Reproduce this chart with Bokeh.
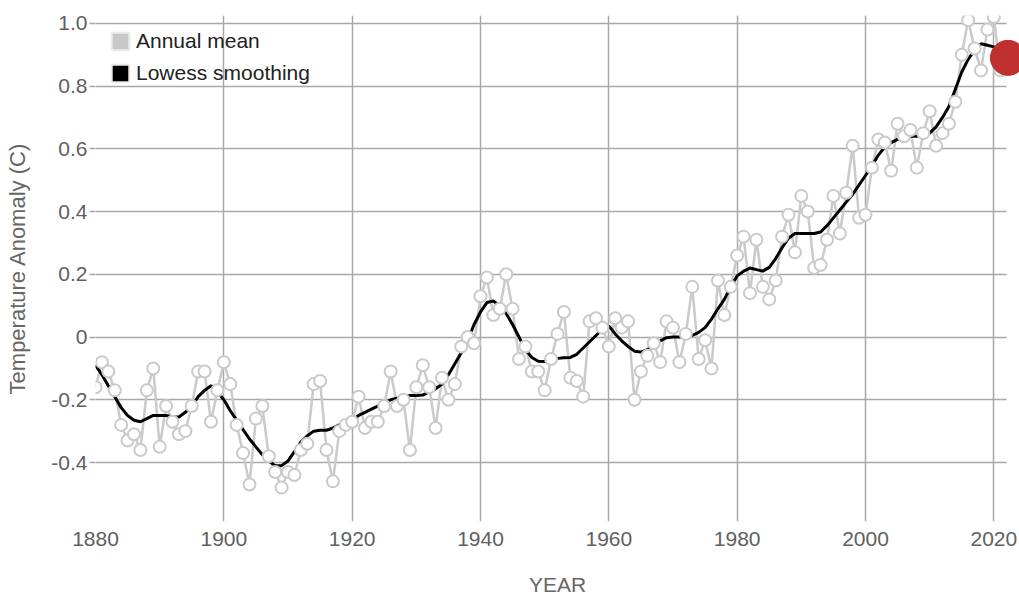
from bokeh.plotting import figure
from bokeh.models import Range1d, Legend, LegendItem
from bokeh.embed import file_html
from bokeh.resources import INLINE

years = list(range(1880, 2022))
annual_mean = [
    -0.16, -0.08, -0.11, -0.17, -0.28, -0.33, -0.31, -0.36, -0.17, -0.10,
    -0.35, -0.22, -0.27, -0.31, -0.30, -0.22, -0.11, -0.11, -0.27, -0.17,
    -0.08, -0.15, -0.28, -0.37, -0.47, -0.26, -0.22, -0.38, -0.43, -0.48,
    -0.43, -0.44, -0.36, -0.34, -0.15, -0.14, -0.36, -0.46, -0.30, -0.28,
    -0.27, -0.19, -0.29, -0.27, -0.27, -0.22, -0.11, -0.22, -0.20, -0.36,
    -0.16, -0.09, -0.16, -0.29, -0.13, -0.20, -0.15, -0.03, 0.00, -0.02,
    0.13, 0.19, 0.07, 0.09, 0.20, 0.09, -0.07, -0.03, -0.11, -0.11,
    -0.17, -0.07, 0.01, 0.08, -0.13, -0.14, -0.19, 0.05, 0.06, 0.03,
    -0.03, 0.06, 0.03, 0.05, -0.20, -0.11, -0.06, -0.02, -0.08, 0.05,
    0.03, -0.08, 0.01, 0.16, -0.07, -0.01, -0.10, 0.18, 0.07, 0.16,
    0.26, 0.32, 0.14, 0.31, 0.16, 0.12, 0.18, 0.32, 0.39, 0.27,
    0.45, 0.40, 0.22, 0.23, 0.31, 0.45, 0.33, 0.46, 0.61, 0.38,
    0.39, 0.54, 0.63, 0.62, 0.53, 0.68, 0.64, 0.66, 0.54, 0.65,
    0.72, 0.61, 0.65, 0.68, 0.75, 0.90, 1.01, 0.92, 0.85, 0.98,
    1.02, 0.85,
]
lowess = [
    -0.09, -0.12, -0.155, -0.19, -0.225, -0.25, -0.265, -0.27, -0.26, -0.25,
    -0.25, -0.25, -0.255, -0.255, -0.24, -0.22, -0.19, -0.17, -0.155, -0.175,
    -0.20, -0.235, -0.265, -0.295, -0.325, -0.35, -0.375, -0.395, -0.41, -0.41,
    -0.395, -0.365, -0.335, -0.315, -0.30, -0.297, -0.297, -0.29, -0.28, -0.272,
    -0.265, -0.25, -0.24, -0.23, -0.22, -0.21, -0.20, -0.195, -0.19, -0.186,
    -0.186, -0.185, -0.175, -0.165, -0.15, -0.12, -0.085, -0.05, -0.01, 0.04,
    0.08, 0.11, 0.115, 0.10, 0.075, 0.04, 0.00, -0.04, -0.065, -0.077,
    -0.078, -0.072, -0.068, -0.066, -0.065, -0.055, -0.035, -0.015, 0.005, 0.025,
    0.035, 0.01, -0.012, -0.03, -0.045, -0.048, -0.04, -0.025, -0.012, -0.002,
    0.00, 0.00, 0.00, 0.005, 0.015, 0.03, 0.057, 0.09, 0.12, 0.16,
    0.195, 0.21, 0.22, 0.215, 0.21, 0.222, 0.25, 0.285, 0.315, 0.33,
    0.33, 0.33, 0.33, 0.335, 0.355, 0.38, 0.405, 0.43, 0.455, 0.485,
    0.515, 0.545, 0.58, 0.605, 0.62, 0.63, 0.635, 0.64, 0.64, 0.643,
    0.65, 0.67, 0.70, 0.735, 0.79, 0.845, 0.885, 0.915, 0.935, 0.93,
    0.925, 0.92,
]
current_year = [2022.2]
current_value = [0.89]

x_ticks = [1880, 1900, 1920, 1940, 1960, 1980, 2000, 2020]
y_ticks = [-0.4, -0.2, 0.0, 0.2, 0.4, 0.6, 0.8, 1.0]
y_tick_labels = ["-0.4", "-0.2", "0", "0.2", "0.4", "0.6", "0.8", "1.0"]

FONT = "Liberation Sans"
GRID = "#a8a8a8"
GRAY = "#cacaca"

p = figure(width=1019, height=598, output_backend="svg", toolbar_location=None,
           x_range=Range1d(1880, 2024.0), y_range=Range1d(-0.588, 1.025),
           min_border_left=95, min_border_right=0, min_border_top=15,
           min_border_bottom=75)
p.outline_line_color = None
p.background_fill_color = "white"

p.xaxis.ticker = x_ticks
p.yaxis.ticker = y_ticks
p.yaxis.major_label_overrides = dict(zip(y_ticks, y_tick_labels))
for g in (p.xgrid, p.ygrid):
    g.grid_line_color = GRID
    g.grid_line_width = 1.5
try:
    p.ygrid.cross_bounds = (1880, 2022)
except Exception:
    pass

for ax in (p.xaxis, p.yaxis):
    ax.axis_line_color = None
    ax.minor_tick_line_color = None
    ax.major_tick_line_color = GRID
    ax.major_tick_line_width = 1.5
    ax.major_tick_in = 0
    ax.major_label_text_font = FONT
    ax.major_label_text_font_size = "21px"
    ax.major_label_text_color = "#606060"
    ax.axis_label_text_font = FONT
    ax.axis_label_text_font_style = "normal"
    ax.axis_label_text_color = "#666666"

p.xaxis.major_tick_out = 0
p.xaxis.major_label_standoff = 10
p.xaxis.axis_label = "YEAR"
p.xaxis.axis_label_text_font_size = "21px"
p.xaxis.axis_label_standoff = 24

p.yaxis.major_tick_out = 6
p.yaxis.major_label_standoff = 2
p.yaxis.axis_label = "Temperature Anomaly (C)"
p.yaxis.axis_label_text_font_size = "22px"
p.yaxis.axis_label_standoff = 18

# data
p.line(years, annual_mean, line_color=GRAY, line_width=2.5)
p.line(years, lowess, line_color="black", line_width=3)
p.scatter(years, annual_mean, marker="circle", size=12, fill_color="white",
          line_color=GRAY, line_width=2)
p.scatter(current_year, current_value, marker="circle", size=35,
          fill_color="#c03030", line_color="#b82a2a", line_width=1)

# legend swatches (no data, only used for the legend)
nan = float("nan")
r_am = p.rect(x=[nan], y=[nan], width=1, height=1, fill_color="#c8c8c8",
              line_color="#ebebeb", line_width=2)
r_lw = p.rect(x=[nan], y=[nan], width=1, height=1, fill_color="#000000",
              line_color="#ebebeb", line_width=2)
legend = Legend(items=[LegendItem(label="Annual mean", renderers=[r_am]),
                       LegendItem(label="Lowess smoothing", renderers=[r_lw])],
                location="top_left", margin=9, padding=5, spacing=8,
                glyph_width=22, glyph_height=22, label_height=22,
                label_standoff=5, label_text_font=FONT,
                label_text_font_size="21px", label_text_color="#222222",
                background_fill_alpha=0, border_line_alpha=0)
p.add_layout(legend)

open("out.html", "w").write(file_html(p, INLINE))
